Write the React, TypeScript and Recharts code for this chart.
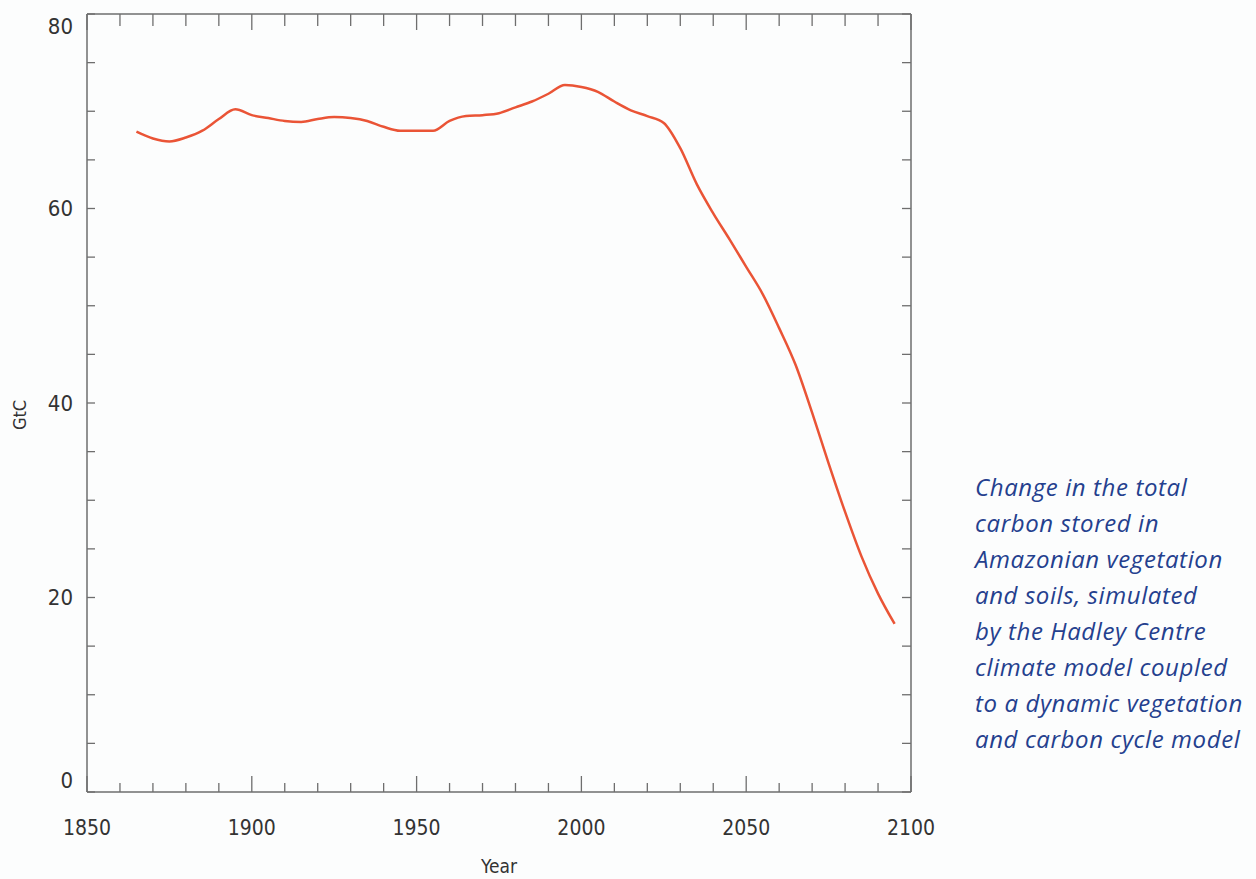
import React from "react";
import {Label, Line, LineChart, XAxis, YAxis} from "recharts";

// simulated total carbon (GtC) in Amazonian vegetation and soils
const years = [
    1865, 1870, 1875, 1880, 1885, 1890, 1895, 1900, 1905, 1910, 1915, 1920,
    1925, 1930, 1935, 1940, 1945, 1950, 1955, 1960, 1965, 1970, 1975, 1980,
    1985, 1990, 1995, 2000, 2005, 2010, 2015, 2020, 2025, 2030, 2035, 2040,
    2045, 2050, 2055, 2060, 2065, 2070, 2075, 2080, 2085, 2090, 2095,
];
const gtc = [
    67.9, 67.2, 66.9, 67.3, 68.0, 69.2, 70.2, 69.6, 69.3, 69.0, 68.9, 69.2,
    69.4, 69.3, 69.0, 68.4, 68.0, 68.0, 68.0, 69.0, 69.5, 69.6, 69.8, 70.4,
    71.0, 71.8, 72.7, 72.5, 72.0, 71.0, 70.1, 69.5, 68.8, 66.2, 62.5, 59.5,
    56.8, 54.0, 51.2, 47.7, 43.9, 39.0, 33.8, 28.8, 24.2, 20.4, 17.3,
];

const xTicks = [1850, 1860, 1870, 1880, 1890, 1900, 1910, 1920, 1930, 1940, 1950, 1960, 1970,
    1980, 1990, 2000, 2010, 2020, 2030, 2040, 2050, 2060, 2070, 2080, 2090, 2100];
const yTicks = [0, 5, 10, 15, 20, 25, 30, 35, 40, 45, 50, 55, 60, 65, 70, 75, 80];

const captionLines = [
    "Change in the total",
    "carbon stored in",
    "Amazonian vegetation",
    "and soils, simulated",
    "by the Hadley Centre",
    "climate model coupled",
    "to a dynamic vegetation",
    "and carbon cycle model",
];

const data = years.map((year, i) => ({year, gtc: gtc[i]}));

const AXIS = "#6e6e6e";
const LABEL_FONT = "'Liberation Sans Narrow', 'DejaVu Sans Condensed', Roboto, sans-serif";

const BottomTick = ({x, y, payload}: any) => {
    const major = payload.value % 50 === 0;
    return (
        <g>
            <line x1={x} y1={y} x2={x} y2={y - (major ? 16 : 9)} stroke={AXIS} strokeWidth={1.3}/>
            {major &&
                <text x={x} y={y + 36} textAnchor="middle" dominantBaseline="central"
                      fontFamily={LABEL_FONT} fontSize={21} fill="#333">
                    {payload.value}
                </text>}
        </g>
    );
}

const TopTick = ({x, y, payload}: any) => {
    const major = payload.value % 50 === 0;
    return <line x1={x} y1={y} x2={x} y2={y + (major ? 16 : 12)} stroke={AXIS} strokeWidth={1.3}/>;
}

const LeftTick = ({x, y, payload}: any) => {
    const v = payload.value;
    const nudge = v === 80 ? 12 : v === 0 ? -12 : 0;
    return (
        <g>
            <line x1={x} y1={y} x2={x + 8} y2={y} stroke={AXIS} strokeWidth={1.3}/>
            {v % 20 === 0 &&
                <text x={x - 14} y={y + nudge} textAnchor="end" dominantBaseline="central"
                      fontFamily={LABEL_FONT} fontSize={22} fill="#333">
                    {v}
                </text>}
        </g>
    );
}

const RightTick = ({x, y}: any) => {
    return <line x1={x} y1={y} x2={x - 9} y2={y} stroke={AXIS} strokeWidth={1.3}/>;
}

export default function App() {
    return (
        <div style={{position: "absolute", left: 0, top: 0, width: 1256, height: 879, background: "#fcfdfd"}}>
            <LineChart width={960} height={879} data={data}
                       margin={{top: 13, right: 48, bottom: 0, left: 0}}>
                <XAxis dataKey="year" type="number" domain={[1850, 2100]} allowDataOverflow
                       ticks={xTicks} interval={0} height={87} tickSize={0} tickMargin={0}
                       tickLine={false} axisLine={{stroke: AXIS, strokeWidth: 1.5}}
                       tick={<BottomTick/>}>
                    <Label value="Year" position="insideBottom" offset={6}
                           style={{fontFamily: LABEL_FONT, fontSize: 19, fill: "#333"}}/>
                </XAxis>
                <XAxis xAxisId="top" orientation="top" dataKey="year" type="number"
                       domain={[1850, 2100]} allowDataOverflow ticks={xTicks} interval={0}
                       height={1} tickSize={0} tickMargin={0} tickLine={false}
                       axisLine={{stroke: AXIS, strokeWidth: 1.5}} tick={<TopTick/>}/>
                <YAxis type="number" domain={[0, 80]} allowDataOverflow ticks={yTicks} interval={0}
                       width={87} tickSize={0} tickMargin={0} tickLine={false}
                       axisLine={{stroke: AXIS, strokeWidth: 1.5}} tick={<LeftTick/>}>
                    <Label value="GtC" angle={-90} position="insideLeft" offset={20} dy={12}
                           style={{fontFamily: LABEL_FONT, fontSize: 18, fill: "#333", textAnchor: "middle"}}/>
                </YAxis>
                <YAxis yAxisId="right" orientation="right" type="number"
                       domain={[0, 80]} allowDataOverflow ticks={yTicks} interval={0}
                       width={1} tickSize={0} tickMargin={0} tickLine={false}
                       axisLine={{stroke: AXIS, strokeWidth: 1.5}} tick={<RightTick/>}/>
                {/* invisible copy so the frame axes (top/right) get drawn */}
                <Line xAxisId="top" yAxisId="right" dataKey="gtc" stroke="none" dot={false}
                      activeDot={false} legendType="none" isAnimationActive={false}/>
                <Line dataKey="gtc" type="monotone" stroke="#ea5436" strokeWidth={2.5}
                      dot={false} isAnimationActive={false}/>
            </LineChart>
            <div style={{
                position: "absolute", left: 975, top: 469, fontFamily: "'Open Sans', sans-serif",
                fontStyle: "italic", fontSize: 24, letterSpacing: 0.6, lineHeight: "36px",
                color: "#24408e", whiteSpace: "nowrap",
            }}>
                {captionLines.map((line) => <div key={line}>{line}</div>)}
            </div>
        </div>
    );
}
